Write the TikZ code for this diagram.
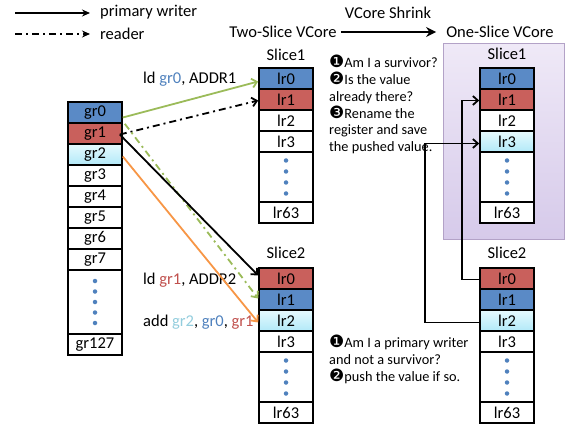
\documentclass[tikz,border=0pt]{standalone}
\usepackage{fontspec}
\setmainfont{Carlito}
\newfontfamily\dejavu{DejaVu Sans}
\usetikzlibrary{arrows.meta}
\definecolor{regblue}{HTML}{5A8AC6}
\definecolor{regred}{HTML}{C9605C}
\definecolor{cyanA}{HTML}{E6FAFE}
\definecolor{cyanB}{HTML}{B2E9F8}
\definecolor{txtblue}{HTML}{4F81BD}
\definecolor{txtred}{HTML}{C0504D}
\definecolor{txtcyan}{HTML}{93CDDD}
\definecolor{arrgreen}{HTML}{9BBB59}
\definecolor{arrorange}{HTML}{F79646}
\definecolor{purpA}{HTML}{EFE9F7}
\definecolor{purpB}{HTML}{D6CAEA}
\definecolor{purpline}{HTML}{B3A2C7}
\definecolor{dotblue}{HTML}{4F81BD}
\newcommand\cnum[1]{{\dejavu\fontsize{17}{16}\selectfont #1}}
\tikzset{
  txt/.style={font=\fontsize{16.5}{19}\selectfont, inner sep=0pt},
  note/.style={font=\fontsize{14.3}{16.8}\selectfont, inner sep=0pt, align=left, anchor=north west},
  reg/.style={draw=black, line width=1.6pt, minimum width=54pt, minimum height=21pt, inner sep=0pt, font=\fontsize{16.5}{19}\selectfont},
  cyanfill/.style={top color=cyanA, bottom color=cyanB},
  bdot/.style={circle, fill=dotblue, inner sep=0pt, minimum size=4.5pt},
  conn/.style={line width=1.8pt, -{Straight Barb[length=5pt,width=9pt]}},
  dashdot/.style={dash pattern=on 7pt off 4pt on 2pt off 4pt},
}
\newcommand\slicecol[7]{%
  \node[reg,#4] (#1r0) at (#2,#3+10.5) {lr0};
  \node[reg,#5] (#1r1) at (#2,#3+31.5) {lr1};
  \node[reg,#6] (#1r2) at (#2,#3+52.5) {lr2};
  \node[reg,#7] (#1r3) at (#2,#3+73.5) {lr3};
  \node[reg,minimum height=50pt,fill=white] (#1d) at (#2,#3+109) {};
  \node[reg,fill=white] (#1r63) at (#2,#3+144.5) {lr63};
  \foreach \dd in {-16.5,-5.5,5.5,16.5} \node[bdot] at (#2,#3+109+\dd) {};
}
\begin{document}
\begin{tikzpicture}[x=1pt,y=-1pt]
\useasboundingbox (0,0) rectangle (566,428);

% legend
\coordinate (lg1a) at (15,13); \coordinate (lg1b) at (90,13);
\coordinate (lg2a) at (15,34); \coordinate (lg2b) at (90,34);
\draw[line width=1.8pt,-{Stealth[length=8pt,width=7pt]}] (lg1a) -- (lg1b);
\draw[line width=1.8pt,dashdot,-{Stealth[length=8pt,width=7pt]}] (lg2a) -- (lg2b);
\node[txt,anchor=west] (lgt1) at (100,12) {primary writer};
\node[txt,anchor=west] (lgt2) at (100,34) {reader};

% titles
\node[txt] (two) at (283,32) {Two-Slice VCore};
\node[txt] (shr) at (388,13) {VCore Shrink};
\node[txt] (one) at (500,32) {One-Slice VCore};
\draw[line width=2.2pt,-{Stealth[length=10pt,width=10pt]}] (two.east) ++(4,0) coordinate (sh1) -- ([xshift=-10pt]one.west);

% purple box
\node[draw=purpline, line width=1pt, top color=purpA, bottom color=purpB, minimum width=121pt, minimum height=195pt, inner sep=0pt] (pbox) at (504,141.5) {};

% left column
\node[reg,fill=regblue] (gr0) at (95,112.5) {gr0};
\node[reg,fill=regred] (gr1) at (95,133.5) {gr1};
\node[reg,cyanfill] (gr2) at (95,154.5) {gr2};
\node[reg,fill=white] (gr3) at (95,175.5) {gr3};
\node[reg,fill=white] (gr4) at (95,196.5) {gr4};
\node[reg,fill=white] (gr5) at (95,217.5) {gr5};
\node[reg,fill=white] (gr6) at (95,238.5) {gr6};
\node[reg,fill=white] (gr7) at (95,259.5) {gr7};
\node[reg,fill=white,minimum height=64pt] (grd) at (95,302) {};
\foreach \dd in {-21,-10.5,0,10.5,21} \node[bdot] at (95,302+\dd) {};
\node[reg,fill=white] (gr127) at (95,344.5) {gr127};

% slices
\node[txt] (sAl) at (286,55) {Slice1};
\slicecol{sA}{286}{68}{fill=regblue}{fill=regred}{fill=white}{fill=white}
\node[txt] (sBl) at (286,253) {Slice2};
\slicecol{sB}{286}{268}{fill=regred}{fill=regblue}{cyanfill}{fill=white}
\node[txt] (tAl) at (507,54) {Slice1};
\slicecol{tA}{507}{68}{fill=regblue}{fill=regred}{fill=white}{cyanfill}
\node[txt] (tBl) at (507,253) {Slice2};
\slicecol{tB}{507}{268}{fill=regred}{fill=regblue}{cyanfill}{fill=white}

% instruction labels
\node[txt,anchor=west] (ins1) at (143,79) {ld \textcolor{txtblue}{gr0}, ADDR1};
\node[txt,anchor=west] (ins2) at (143,280) {ld \textcolor{txtred}{gr1}, ADDR2};
\node[txt,anchor=west] (ins3) at (143,322) {add \textcolor{txtcyan}{gr2}, \textcolor{txtblue}{gr0}, \textcolor{txtred}{gr1}};

% connectors
\draw[conn,arrgreen] ([yshift=-5pt]gr0.east) -- ([yshift=-3pt]sAr0.west);
\draw[conn,dashdot] ([xshift=-3pt,yshift=-1pt]gr1.east) -- ([yshift=-1pt]sAr1.west);
\draw[conn,arrgreen,dashdot] ([xshift=2pt]gr0.south east) -- ([yshift=1pt]sBr1.west);
\draw[conn] ([xshift=-3pt,yshift=-1pt]gr1.east) -- ([yshift=3pt]sBr0.west);
\draw[conn,arrorange] ([yshift=-2pt]gr2.east) -- ([yshift=-2pt]sBr2.west);

\draw[conn] ([yshift=-1pt]tBr0.west) -- ++(-17,0) |- ([yshift=-1pt]tAr1.west);
\draw[conn] ([yshift=-2pt]tBr2.west) -- ++(-54,0) |- ([yshift=-2pt]tAr3.west);

% notes
\node[note] (n1) at (329,55) {\cnum{❶}Am I a survivor?\\ \cnum{❷}Is the value\\ already there?\\ \cnum{❸}Rename the\\ register and save\\ the pushed value.};
\node[note,font=\fontsize{14.3}{17}\selectfont] (n2) at (329,335) {\cnum{❶}Am I a primary writer\\ and not a survivor?\\ \cnum{❷}push the value if so.};
\end{tikzpicture}
\end{document}
